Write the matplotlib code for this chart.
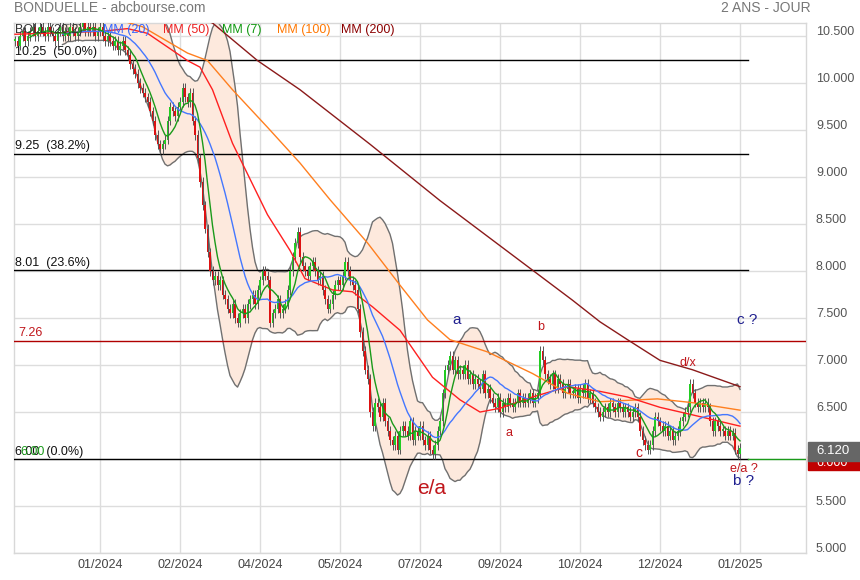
import numpy as np
import pandas as pd
import matplotlib
matplotlib.use('Agg')
import matplotlib.pyplot as plt
from matplotlib.patches import Rectangle

plt.rcParams['font.family'] = ['Liberation Sans', 'DejaVu Sans']

# daily closes (one value per trading day)
closes = [
    10.45, 10.4, 10.5, 10.55, 10.45, 10.5, 10.55, 10.6, 10.5, 10.55,
    10.6, 10.55, 10.5, 10.6, 10.55, 10.5, 10.45, 10.55, 10.6, 10.5,
    10.55, 10.5, 10.6, 10.55, 10.5, 10.55, 10.6, 10.65, 10.55, 10.6,
    10.55, 10.6, 10.5, 10.55, 10.6, 10.5, 10.45, 10.5, 10.45, 10.4,
    10.45, 10.35, 10.4, 10.45, 10.35, 10.3, 10.2, 10.15, 10.1, 10.0,
    9.95, 9.9, 9.85, 9.8, 9.7, 9.6, 9.45, 9.35, 9.3, 9.35,
    9.4, 9.6, 9.75, 9.7, 9.65, 9.75, 9.8, 9.95, 9.85, 9.8,
    9.9, 9.6, 9.45, 9.2, 8.95, 8.7, 8.45, 8.2, 8.0, 7.9,
    7.95, 7.85, 7.9, 7.75, 7.7, 7.6, 7.55, 7.65, 7.5, 7.45,
    7.55, 7.6, 7.5, 7.65, 7.7, 7.75, 7.65, 7.8, 7.9, 8.0,
    7.95, 7.9, 7.45, 7.55, 7.6, 7.7, 7.55, 7.6, 7.65, 7.8,
    8.0, 8.15, 8.3, 8.42, 8.15, 8.05, 8.0, 7.95, 8.05, 8.1,
    8.0, 7.9, 7.95, 7.8, 7.7, 7.6, 7.65, 7.75, 7.85, 7.9,
    7.85, 7.95, 8.1, 8.0, 7.9, 7.85, 7.8, 7.6, 7.35, 7.15,
    6.95, 6.85, 6.5, 6.35, 6.6, 6.55, 6.45, 6.6, 6.4, 6.3,
    6.2, 6.15, 6.25, 6.1, 6.3, 6.35, 6.3, 6.25, 6.4, 6.2,
    6.3, 6.25, 6.35, 6.2, 6.15, 6.25, 6.1, 6.05, 6.15, 6.3,
    6.4, 6.7, 6.95, 7.0, 7.1, 6.95, 7.05, 6.9, 6.95, 6.9,
    7.0, 6.85, 6.9, 6.8, 6.85, 6.8, 6.75, 6.9, 6.7, 6.75,
    6.65, 6.6, 6.55, 6.65, 6.5, 6.6, 6.55, 6.65, 6.6, 6.55,
    6.6, 6.7, 6.6, 6.65, 6.6, 6.65, 6.7, 6.6, 6.65, 6.7,
    7.15, 7.05, 6.9, 6.85, 6.8, 6.9, 6.75, 6.85, 6.8, 6.7,
    6.75, 6.8, 6.7, 6.7, 6.75, 6.65, 6.75, 6.7, 6.8, 6.65,
    6.7, 6.6, 6.55, 6.5, 6.45, 6.5, 6.55, 6.5, 6.6, 6.55,
    6.5, 6.6, 6.55, 6.5, 6.55, 6.5, 6.45, 6.5, 6.55, 6.45,
    6.3, 6.2, 6.15, 6.1, 6.15, 6.3, 6.45, 6.4, 6.35, 6.3,
    6.35, 6.25, 6.3, 6.2, 6.25, 6.3, 6.4, 6.45, 6.5, 6.55,
    6.8, 6.7, 6.6, 6.55, 6.6, 6.55, 6.6, 6.55, 6.4, 6.3,
    6.4, 6.35, 6.3, 6.3, 6.25, 6.3, 6.25, 6.28, 6.1, 6.05, 6.12,
]

# long moving averages (day index, value)
mm50_days = [0, 34, 45, 53, 69, 74, 79, 87, 101, 110, 116, 127, 135, 143, 154,
             167, 178, 186, 194, 207, 221, 234, 245, 258, 271, 290]
mm50_vals = [10.52, 10.55, 10.58, 10.53, 10.24, 10.17, 9.93, 9.36, 8.6, 8.22, 7.92,
             7.8, 7.78, 7.62, 7.37, 6.87, 6.63, 6.5, 6.54, 6.66, 6.77, 6.72, 6.66,
             6.55, 6.47, 6.35]
mm100_days = [38, 51, 69, 77, 87, 101, 114, 126, 141, 154, 165, 174, 189, 207,
              221, 234, 257, 271, 290]
mm100_vals = [10.7, 10.6, 10.32, 10.24, 9.93, 9.53, 9.15, 8.76, 8.3, 7.85, 7.48,
              7.27, 7.14, 6.91, 6.7, 6.61, 6.64, 6.6, 6.52]
mm200_days = [70, 79, 97, 114, 142, 170, 207, 223, 234, 245, 258, 271, 290]
mm200_vals = [10.72, 10.64, 10.24, 9.93, 9.35, 8.75, 8.01, 7.69, 7.46, 7.27, 7.05,
              6.95, 6.77]

# fibonacci / horizontal levels
fib_levels = [10.25, 9.25, 8.01, 6.00]
fib_labels = ['10.25  (50.0%)', '9.25  (38.2%)', '8.01  (23.6%)', '6.00  (0.0%)']
resist_level = 7.26

month_ticks = [34, 66, 98, 130, 162, 194, 226, 258, 290]
month_labels = ['01/2024', '02/2024', '04/2024', '05/2024', '07/2024',
                '09/2024', '10/2024', '12/2024', '01/2025']
price_ticks = [5.0, 5.5, 6.0, 6.5, 7.0, 7.5, 8.0, 8.5, 9.0, 9.5, 10.0, 10.5]

last_price = 6.120
stop_price = 6.000

# wave labels: (text, day, price, colour, size)
waves = [
    ('a', 176.8, 7.48, '#1f1f8f', 11),
    ('b', 210.4, 7.40, '#c0161b', 9),
    ('a', 197.6, 6.28, '#c0161b', 9),
    ('e/a', 166.8, 5.69, '#c0161b', 15),
    ('c ?', 292.8, 7.48, '#1f1f8f', 11),
    ('d/x', 269.0, 7.02, '#c0161b', 9),
    ('c', 249.6, 6.06, '#c0161b', 10),
    ('e/a ?', 291.6, 5.89, '#c0161b', 9),
    ('b ?', 291.6, 5.77, '#1f1f8f', 11),
]

W, H = 860, 580
def fx(x):
    return x / W
def fy(y):
    return 1 - y / H

s = pd.Series(closes)
days = np.arange(len(closes))
opens = s.shift(1).fillna(s.iloc[0]).values
close_arr = s.values
mm7 = s.rolling(7).mean()
mm20 = s.rolling(20).mean()
sd20 = s.rolling(20).std(ddof=0)
boll_up = mm20 + 2 * sd20
boll_dn = mm20 - 2 * sd20

fig = plt.figure(figsize=(8.6, 5.8), dpi=100)
ax = fig.add_axes([fx(14), 1 - 553 / H, 792 / W, 530 / H])
ax.set_xlim(-0.4, 316.4)
ax.set_ylim(5.0, 10.64)

# grid
for t in month_ticks:
    ax.axvline(t, color='#dddddd', lw=1, zorder=0)
for p in price_ticks:
    ax.axhline(p, color='#dddddd', lw=1, zorder=0)

# bollinger band
ax.fill_between(days, boll_dn, boll_up, color='#fde9dd', zorder=1, lw=0)
ax.plot(days, boll_up, color='#707070', lw=1, zorder=2)
ax.plot(days, boll_dn, color='#707070', lw=1, zorder=2)

# horizontal levels
for lvl, lab in zip(fib_levels, fib_labels):
    ax.plot([-0.4, 293], [lvl, lvl], color='black', lw=1, zorder=3)
    ax.annotate(lab, xy=(0, lvl), xycoords=('axes fraction', 'data'),
                xytext=(1, 1), textcoords='offset points', fontsize=9,
                va='bottom', ha='left', color='#111111', zorder=6)
ax.annotate('6.00', xy=(0, 6.0), xycoords=('axes fraction', 'data'),
            xytext=(4.5, 1), textcoords='offset points', fontsize=9,
            va='bottom', ha='left', color='#1a9a1a', zorder=6)
ax.plot([293, 316.4], [stop_price, stop_price], color='#1a9a1a', lw=1, zorder=3)
ax.axhline(resist_level, color='#b00000', lw=1, zorder=3)
ax.annotate('7.26', xy=(0, resist_level), xycoords=('axes fraction', 'data'),
            xytext=(3, 1), textcoords='offset points', fontsize=9,
            va='bottom', ha='left', color='#c0161b', zorder=6)

# candles
up = close_arr >= opens
hi = np.maximum(opens, close_arr) + 0.05
lo = np.minimum(opens, close_arr) - 0.05
ax.vlines(days, lo, hi, color='#555555', lw=0.7, zorder=4)
body = np.where(np.abs(close_arr - opens) < 0.02, 0.02, close_arr - opens)
ax.bar(days[up], body[up], bottom=opens[up], width=0.7, color='#22cc22', zorder=5)
ax.bar(days[~up], body[~up], bottom=opens[~up], width=0.7, color='#dd1111', zorder=5)

# moving averages
ax.plot(mm200_days, mm200_vals, color='#8b1a1a', lw=1, zorder=6)
ax.plot(mm100_days, mm100_vals, color='#ff7f1f', lw=1, zorder=6)
ax.plot(mm50_days, mm50_vals, color='#ff2020', lw=1, zorder=6)
ax.plot(days, mm20, color='#4477ff', lw=1, zorder=6)
ax.plot(days, mm7, color='#1a9a1a', lw=1, zorder=6)

# wave labels
for txt, d, p, c, sz in waves:
    ax.text(d, p, txt, color=c, fontsize=sz, ha='center', va='center', zorder=7)

# axes cosmetics
ax.set_xticks([])
ax.set_yticks([])
for sp in ax.spines.values():
    sp.set_color('#d8d8d8')
    sp.set_linewidth(1)
for t, lab in zip(month_ticks, month_labels):
    ax.annotate(lab, xy=(t, 0), xycoords=('data', 'axes fraction'),
                xytext=(0, -12), textcoords='offset pixels', ha='center',
                va='center', fontsize=9, color='#444444')
for p in price_ticks:
    ax.annotate(f'{p:.3f}', xy=(1, p), xycoords=('axes fraction', 'data'),
                xytext=(10, 4), textcoords='offset pixels', ha='left',
                va='center', fontsize=9, color='#555555')

# last price / stop boxes
fig.patches.append(Rectangle((fx(808), fy(470)), 52 / W, 14 / H,
                             transform=fig.transFigure, color='#c00000', zorder=8))
fig.text(fx(816), fy(463), f'{stop_price:.3f}', color='white', fontsize=9,
         va='center', zorder=9)
fig.patches.append(Rectangle((fx(808), fy(461)), 52 / W, 19 / H,
                             transform=fig.transFigure, color='#666666', zorder=10))
fig.text(fx(816), fy(451), f'{last_price:.3f}', color='white', fontsize=9.5,
         va='center', zorder=11)

# header and legend
fig.text(fx(14), fy(8), 'BONDUELLE - abcbourse.com', color='#777777',
         fontsize=10, va='center')
fig.text(fx(811), fy(8), '2 ANS - JOUR', color='#777777', fontsize=10,
         va='center', ha='right')
legend = [('BOLL (20,2)', 15, '#333333'), ('MM (20)', 103, '#3366ff'),
          ('MM (50)', 163, '#ee2222'), ('MM (7)', 222, '#119911'),
          ('MM (100)', 277, '#ff7700'), ('MM (200)', 341, '#8b0000')]
for lab, x, c in legend:
    fig.text(fx(x), fy(30), lab, color=c, fontsize=9, va='center', zorder=12)

fig.savefig('out.png', dpi=100)
